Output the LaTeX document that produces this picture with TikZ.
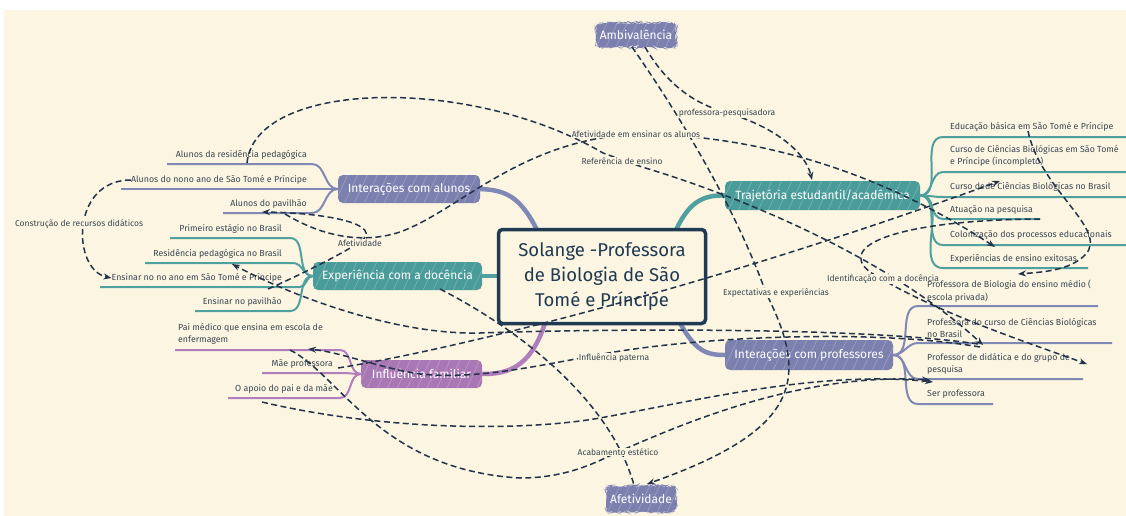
\documentclass[tikz,border=0pt]{standalone}
\usepackage{fontspec}
\setmainfont{Fira Sans}
\usetikzlibrary{arrows.meta,decorations.pathmorphing,patterns.meta}
\definecolor{bg}{HTML}{FBF5E1}
\definecolor{cpurple}{HTML}{7C80AF}
\definecolor{cteal}{HTML}{4A9C9A}
\definecolor{cpink}{HTML}{A877B4}
\definecolor{cnavy}{HTML}{1F3A52}
\definecolor{ctext}{HTML}{3A4652}
\definecolor{cdash}{HTML}{22334A}
\definecolor{lpurple}{HTML}{8088B6}
\definecolor{lteal}{HTML}{4FA09E}
\definecolor{lpink}{HTML}{B07EBC}
\begin{document}
\begin{tikzpicture}[x=1pt,y=-1pt,
  topic/.style={rounded corners=5pt, text=white, font=\fontsize{12}{14}\selectfont, inner sep=0pt, minimum height=28pt},
  hatch/.style={postaction={pattern={Lines[angle=65, distance=9pt, line width=0.7pt]}, pattern color=#1}},
  jagged/.style={decorate, decoration={random steps, segment length=2.5pt, amplitude=1.2pt}},
  item/.style={text=ctext, font=\fontsize{8.8}{12.5}\selectfont, inner sep=0pt, align=left},
  rel/.style={draw=cdash, line width=1.5pt, dash pattern=on 6pt off 3.5pt},
  tip/.style={-{Stealth[length=8pt,width=6pt]}},
  rlab/.style={fill=bg, inner sep=1pt, text=ctext, font=\fontsize{8.5}{10}\selectfont},
  mainp/.style={draw=lpurple, line width=4.5pt},
  maint/.style={draw=lteal, line width=4.5pt},
  mainpk/.style={draw=lpink, line width=4.5pt},
  subp/.style={draw=lpurple, line width=2pt},
  subt/.style={draw=lteal, line width=2pt},
  subpk/.style={draw=lpink, line width=2pt},
  centre/.style={draw=cnavy, line width=3.5pt, fill=bg, rounded corners=4pt, minimum width=207pt, minimum height=94pt, align=center, text=cnavy, font=\fontsize{18.5}{25}\selectfont}
]
\useasboundingbox (0,0) rectangle (1126,516);
\fill[white] (0,0) rectangle (1126,516);
\fill[bg] (4,10) rectangle (1126,516);

% ---------- topics ----------
\coordinate (cA) at (537,230);
\coordinate (cB) at (676,230);
\coordinate (cC) at (545,323);
\coordinate (cD) at (680,323);
\coordinate (cE) at (499,276);

\node[topic, fill=cpurple, hatch=white!22!cpurple, minimum width=142pt] (ialunos) at (409,189) {Interações com alunos};
\node[topic, fill=cteal, hatch=white!22!cteal, minimum width=169pt] (exp) at (397.5,276) {Experiência com a docência};
\node[topic, fill=cpink, hatch=white!22!cpink, minimum width=121pt] (infl) at (421.5,374) {Influência familiar};
\node[topic, fill=cteal, hatch=white!22!cteal, minimum width=195pt, minimum height=29pt] (traj) at (822.5,195.5) {Trajetória estudantil/acadêmica};
\node[topic, fill=cpurple, hatch=white!22!cpurple, minimum width=168pt, minimum height=30pt] (iprof) at (809,355) {Interações com professores};
\node[topic, jagged, fill=cpurple, hatch=white!22!cpurple, minimum width=80pt, minimum height=24pt] (amb) at (636,35) {Ambivalência};
\node[topic, jagged, fill=cpurple, hatch=white!22!cpurple, minimum width=70pt, minimum height=26pt] (afet) at (641,499) {Afetividade};

% main branches
\draw[mainp] (cA) .. controls (520,196) and (505,190) .. (ialunos.east);
\draw[maint] (exp.east) -- (cE);
\draw[mainpk] (cC) .. controls (530,370) and (505,374) .. (infl.east);
\draw[maint] (cB) .. controls (690,200) and (705,195) .. (traj.west);
\draw[mainp] (cD) .. controls (695,350) and (705,355) .. (iprof.west);
\node[centre] (center) at (602,276.5) {Solange -Professora\\de Biologia de São\\Tomé e Príncipe};

% ---------- Interações com alunos ----------
\node[item, anchor=east] (a1) at (307,155) {Alunos da residência pedagógica};
\node[item, anchor=east] (a2) at (307,180) {Alunos do nono ano de São Tomé e Príncipe};
\node[item, anchor=east] (a3) at (307,204) {Alunos do pavilhão};
\coordinate (a1s) at (167,164); \coordinate (a1e) at (312,164);
\coordinate (a2s) at (121,189); \coordinate (a2e) at (318,189);
\coordinate (a3s) at (223,213); \coordinate (a3e) at (312,213);
\draw[subp] (a1s) -- (a1e) to[out=0,in=180] (ialunos.west);
\draw[subp] (a2s) -- (a2e) -- (ialunos.west);
\draw[subp] (a3s) -- (a3e) to[out=0,in=180] (ialunos.west);

% ---------- Experiência com a docência ----------
\node[item, anchor=east] (e1) at (282,229) {Primeiro estágio no Brasil};
\node[item, anchor=east] (e2) at (282,254) {Residência pedagógica no Brasil};
\node[item, anchor=east] (e3) at (282,278) {Ensinar no no ano em São Tomé e Príncipe};
\node[item, anchor=east] (e4) at (282,302) {Ensinar no pavilhão};
\coordinate (e1s) at (170,238); \coordinate (e1e) at (290,238);
\coordinate (e2s) at (145,263); \coordinate (e2e) at (293,263);
\coordinate (e3s) at (100,287); \coordinate (e3e) at (300,287);
\coordinate (e4s) at (195,311); \coordinate (e4e) at (290,311);
\draw[subt] (e1s) -- (e1e) to[out=0,in=180] (exp.west);
\draw[subt] (e2s) -- (e2e) to[out=0,in=180] (exp.west);
\draw[subt] (e3s) -- (e3e) to[out=0,in=180] (exp.west);
\draw[subt] (e4s) -- (e4e) to[out=0,in=180] (exp.west);

% ---------- Influência familiar ----------
\node[item, anchor=west] (f1) at (178,334) {Pai médico que ensina em escola de\\enfermagem};
\node[item, anchor=east] (f2) at (333,364) {Mãe professora};
\node[item, anchor=east] (f3) at (333,389) {O apoio do pai e da mãe};
\coordinate (f1s) at (175,350); \coordinate (f1e) at (340,350);
\coordinate (f2s) at (262,373); \coordinate (f2e) at (342,373);
\coordinate (f3s) at (228,398); \coordinate (f3e) at (340,398);
\draw[subpk] (f1s) -- (f1e) to[out=0,in=180] (infl.west);
\draw[subpk] (f2s) -- (f2e) to[out=0,in=180] (infl.west);
\draw[subpk] (f3s) -- (f3e) to[out=0,in=180] (infl.west);

% ---------- Trajetória ----------
\node[item, anchor=west] (t1) at (950,127) {Educação básica em São Tomé e Príncipe};
\node[item, anchor=west] (t2) at (950,156) {Curso de Ciências Biológicas em São Tomé\\e Príncipe (incompleto)};
\node[item, anchor=west] (t3) at (950,187) {Curso dede Ciências Biológicas no Brasil};
\node[item, anchor=west] (t4) at (950,210) {Atuação na pesquisa};
\node[item, anchor=west] (t5) at (950,235) {Colonização dos processos educacionais};
\node[item, anchor=west] (t6) at (950,259) {Experiências de ensino exitosas};
\coordinate (t1s) at (943,137); \coordinate (t1e) at (1126,137);
\coordinate (t2s) at (943,172); \coordinate (t2e) at (1126,172);
\coordinate (t3s) at (943,197); \coordinate (t3e) at (1126,197);
\coordinate (t4s) at (943,219); \coordinate (t4e) at (1040,219);
\coordinate (t5s) at (943,245); \coordinate (t5e) at (1126,245);
\coordinate (t6s) at (943,268); \coordinate (t6e) at (1088,268);
\foreach \k in {1,...,6} {\draw[subt] (traj.east) to[out=0,in=180] (t\k s) -- (t\k e);}

% ---------- Interações com professores ----------
\coordinate (p1s) at (918,306); \coordinate (p1e) at (1098,306);
\coordinate (p2s) at (918,343); \coordinate (p2e) at (1112,343);
\coordinate (p3s) at (918,379); \coordinate (p3e) at (1083,379);
\coordinate (p4s) at (918,404); \coordinate (p4e) at (993,404);
\foreach \k in {1,...,4} {\draw[subp] (iprof.east) to[out=0,in=180] (p\k s) -- (p\k e);}
\node[item, anchor=west] (p2) at (927,328) {Professora do curso de Ciências Biológicas\\no Brasil};
\node[item, anchor=west] (p3) at (927,364) {Professor de didática e do grupo de\\pesquisa};
\node[item, anchor=west] (p4) at (927,394) {Ser professora};

% ---------- relationships ----------
\coordinate (r2s) at (268,289);
\coordinate (r2e) at (262,212);
\coordinate (r3s) at (285,214);
\coordinate (r3e) at (995,247);
\coordinate (r4s) at (247,163);
\coordinate (r4e) at (983,345);
\coordinate (r5s) at (1040,219);
\coordinate (r5e) at (1087,364);
\coordinate (rAs) at (632,47);
\coordinate (rAe) at (647,484);
\coordinate (rBs) at (645,47);
\coordinate (rBe) at (812,180);
\coordinate (r6s) at (978,344);
\coordinate (r6e) at (232,264);
\coordinate (r7s) at (980,347);
\coordinate (r7e) at (308,349);
\coordinate (r8s) at (338,368);
\coordinate (r8e) at (1000,181);
\coordinate (r9s) at (290,350);
\coordinate (r9e) at (930,380);
\coordinate (r10s) at (262,402);
\coordinate (r10e) at (933,382);
\coordinate (r11s) at (440,289);
\coordinate (r11e) at (634,485);
\coordinate (r12s) at (1028,131);
\coordinate (r12e) at (1018,274);

\draw[rel,tip] (a2.west) .. controls (70,180) and (72,270) .. (e3.west);
\draw[rel,tip] (r2s) .. controls (300,275) and (340,255) .. (360,242) .. controls (385,225) and (330,213) .. (r2e);
\draw[rel,tip] (r3s) .. controls (320,235) and (360,245) .. (400,232) .. controls (460,210) and (520,140) .. (636,134) .. controls (780,135) and (900,185) .. (r3e);
\draw[rel,tip] (r4s) .. controls (255,80) and (470,75) .. (603,153) -- (642,167) .. controls (720,190) and (880,250) .. (r4e);
\draw[rel,tip] (r5s) .. controls (900,220) and (835,245) .. (870,272) .. controls (930,310) and (1020,340) .. (r5e);
\draw[rel,tip] (rAs) .. controls (690,130) and (740,220) .. (766,293) .. controls (810,380) and (800,430) .. (rAe);
\draw[rel,tip] (rBs) .. controls (670,90) and (700,105) .. (727,113) .. controls (770,125) and (805,150) .. (rBe);
\draw[rel,tip] (r6s) .. controls (850,325) and (560,330) .. (480,333) .. controls (400,335) and (300,300) .. (r6e);
\draw[rel,tip] (r7s) .. controls (880,330) and (720,335) .. (614,352) .. controls (540,365) and (480,380) .. (420,374) .. controls (380,368) and (340,352) .. (r7e);
\draw[rel,tip] (r8s) .. controls (450,350) and (700,290) .. (r8e);
\draw[rel,tip] (r9s) .. controls (340,375) and (380,470) .. (520,478) .. controls (570,478) and (600,460) .. (618,452) .. controls (680,425) and (800,372) .. (r9e);
\draw[rel,tip] (r10s) .. controls (380,430) and (520,432) .. (600,418) .. controls (700,400) and (820,370) .. (r10e);
\draw[rel] (r11s) .. controls (520,330) and (610,400) .. (r11e);
\draw[rel,tip] (r12s) .. controls (1040,190) and (1110,230) .. (1085,255) .. controls (1070,270) and (1045,272) .. (r12e);

% labels
\node[rlab] (l1) at (79,224) {Construção de recursos didáticos};
\node[rlab] (l2) at (360,243) {Afetividade};
\node[rlab] (l3) at (636,134) {Afetividade em ensinar os alunos};
\node[rlab] (l4) at (622,161) {Referência de ensino};
\node[rlab] (l5) at (727,113) {professora-pesquisadora};
\node[rlab] (l6) at (883,279) {Identificação com a docência};
\node[rlab] (l7) at (776,293) {Expectativas e experiências};
\node[rlab] (l8) at (614,358) {Influência paterna};
\node[rlab] (l9) at (618,452) {Acabamento estético};

\node[item, anchor=west] (p1) at (927,291) {Professora de Biologia do ensino médio (\\escola privada)};
\end{tikzpicture}
\end{document}
